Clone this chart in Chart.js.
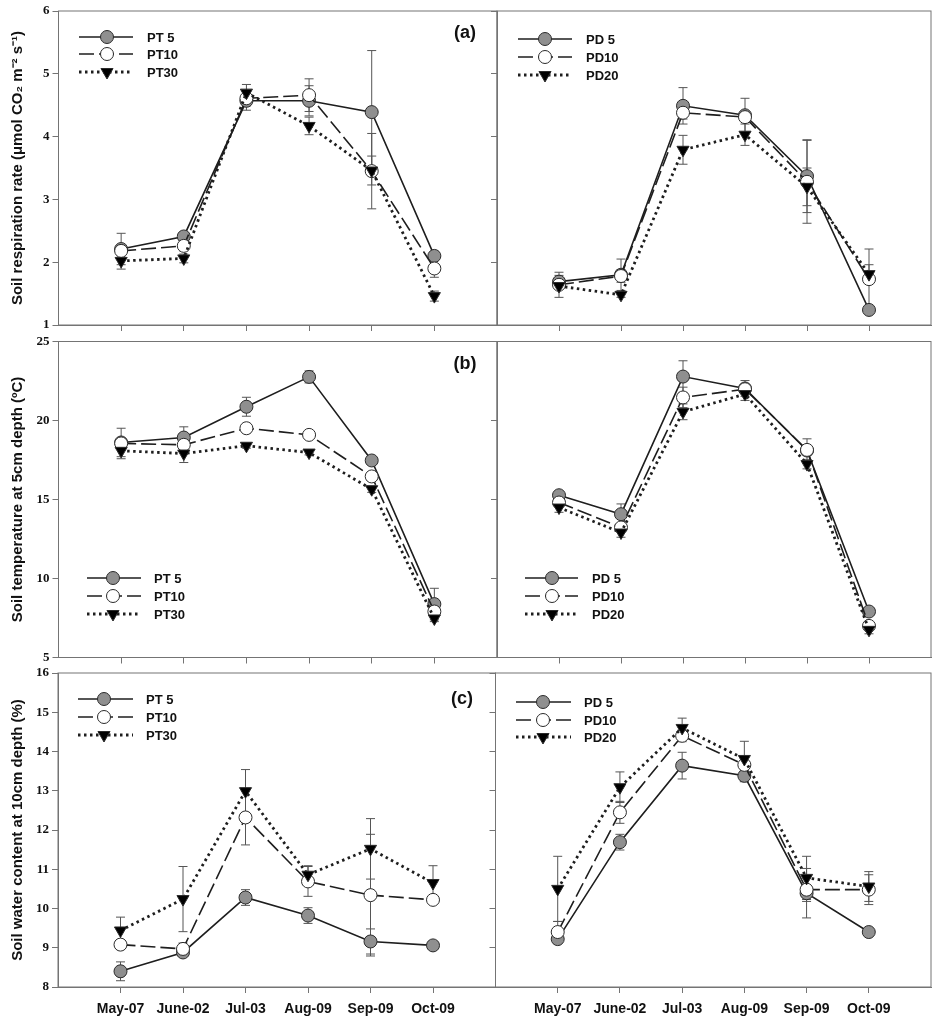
<!DOCTYPE html>
<html>
<head>
<meta charset="utf-8">
<script src="https://cdn.jsdelivr.net/npm/chart.js@4.4.0/dist/chart.umd.min.js"></script>
<style>
  html, body { margin: 0; padding: 0; background: #fff; }
  #wrap { position: relative; width: 939px; height: 1024px; }
  #wrap canvas { position: absolute; left: 0; top: 0; }
</style>
</head>
<body>
<div id="wrap"></div>
<script>
// sampling dates
let months = ["May-07", "June-02", "Jul-03", "Aug-09", "Sep-09", "Oct-09"];

// (a) soil respiration rate
let respPT5 = [2.21, 2.41, 4.57, 4.57, 4.39, 2.10];
let respPT5Err = [0.25, 0.06, 0.15, 0.24, 0.98, 0.06];
let respPT10 = [2.18, 2.26, 4.61, 4.66, 3.45, 1.90];
let respPT10Err = [0.08, 0.08, 0.12, 0.26, 0.6, 0.14];
let respPT30 = [2.02, 2.06, 4.70, 4.17, 3.46, 1.46];
let respPT30Err = [0.13, 0.07, 0.13, 0.14, 0.23, 0.08];
let respPD5 = [1.69, 1.80, 4.49, 4.34, 3.37, 1.24];
let respPD5Err = [0.1, 0.25, 0.29, 0.27, 0.58, 0.05];
let respPD10 = [1.64, 1.78, 4.38, 4.31, 3.28, 1.73];
let respPD10Err = [0.2, 0.1, 0.1, 0.06, 0.66, 0.48];
let respPD20 = [1.62, 1.48, 3.79, 4.03, 3.20, 1.81];
let respPD20Err = [0.05, 0.04, 0.23, 0.17, 0.3, 0.15];

// (b) soil temperature at 5cm
let tempPT5 = [18.61, 18.92, 20.87, 22.76, 17.47, 8.38];
let tempPT5Err = [0.9, 0.68, 0.6, 0.38, 0.2, 1.0];
let tempPT10 = [18.55, 18.46, 19.51, 19.09, 16.46, 7.91];
let tempPT10Err = [0.2, 0.2, 0.2, 0.15, 0.2, 0.3];
let tempPT30 = [18.08, 17.91, 18.40, 17.97, 15.65, 7.47];
let tempPT30Err = [0.5, 0.57, 0.15, 0.15, 0.2, 0.2];
let tempPD5 = [15.27, 14.07, 22.78, 22.03, 18.10, 7.91];
let tempPD5Err = [0.2, 0.65, 1.0, 0.5, 0.3, 0.2];
let tempPD10 = [14.81, 13.23, 21.46, 21.98, 18.14, 7.00];
let tempPD10Err = [0.2, 0.2, 0.65, 0.3, 0.7, 0.2];
let tempPD20 = [14.49, 12.91, 20.55, 21.67, 17.24, 6.75];
let tempPD20Err = [0.3, 0.3, 0.5, 0.4, 0.3, 0.25];

// (c) soil water content at 10cm
let waterPT5 = [8.40, 8.88, 10.28, 9.82, 9.16, 9.06];
let waterPT5Err = [0.24, 0.05, 0.2, 0.2, 0.32, 0.05];
let waterPT10 = [9.08, 8.97, 12.32, 10.69, 10.34, 10.22];
let waterPT10Err = [0.05, 0.15, 0.7, 0.38, 1.55, 0.05];
let waterPT30 = [9.44, 10.24, 12.99, 10.86, 11.52, 10.65];
let waterPT30Err = [0.34, 0.83, 0.55, 0.23, 0.77, 0.44];
let waterPD5 = [9.22, 11.69, 13.64, 13.38, 10.39, 9.40];
let waterPD5Err = [0.1, 0.2, 0.34, 0.15, 0.63, 0.05];
let waterPD10 = [9.40, 12.45, 14.40, 13.66, 10.48, 10.48];
let waterPD10Err = [0.27, 0.28, 0.15, 0.2, 0.3, 0.38];
let waterPD20 = [10.50, 13.09, 14.60, 13.81, 10.78, 10.56];
let waterPD20Err = [0.83, 0.39, 0.25, 0.45, 0.55, 0.38];

let W = 939, H = 1024;
let axisGray = "#747474";
let lineColor = "#1e1e1e";
let sansBold = { family: "'Liberation Sans', Arial, sans-serif", weight: "bold" };

// three line styles: solid/grey dot, dashed/open circle, dotted/black triangle
let styles = [
  { borderDash: [], borderWidth: 1.6, pointStyle: "circle", pointRadius: 6.5, fill: "#8f8f8f", rotation: 0 },
  { borderDash: [15, 5], borderWidth: 1.6, pointStyle: "circle", pointRadius: 6.5, fill: "#ffffff", rotation: 0 },
  { borderDash: [2.5, 3.5], borderWidth: 2.8, pointStyle: "triangle", pointRadius: 7, fill: "#000000", rotation: 180 },
];

function makeDataset(label, values, errors, i) {
  let s = styles[i];
  return {
    label: label,
    data: values.map((v, k) => ({ x: k, y: v })),
    values: values,
    errors: errors,
    borderColor: lineColor,
    borderWidth: s.borderWidth,
    borderDash: s.borderDash,
    borderCapStyle: "butt",
    pointStyle: s.pointStyle,
    pointRotation: s.rotation,
    pointRadius: s.pointRadius,
    pointBackgroundColor: s.fill,
    pointBorderColor: "#2a2a2a",
    pointBorderWidth: 1,
    tension: 0,
    order: 3 - i,
  };
}

let errorBars = {
  id: "errorBars",
  beforeDatasetsDraw(chart) {
    let ctx = chart.ctx;
    let x = chart.scales.x, y = chart.scales.y;
    ctx.save();
    ctx.strokeStyle = "#555";
    ctx.lineWidth = 1;
    chart.data.datasets.forEach((ds) => {
      ds.values.forEach((v, k) => {
        let e = ds.errors[k];
        let px = x.getPixelForValue(k);
        let top = y.getPixelForValue(v + e);
        let bot = y.getPixelForValue(v - e);
        ctx.beginPath();
        ctx.moveTo(px, top); ctx.lineTo(px, bot);
        ctx.moveTo(px - 4.5, top); ctx.lineTo(px + 4.5, top);
        ctx.moveTo(px - 4.5, bot); ctx.lineTo(px + 4.5, bot);
        ctx.stroke();
      });
    });
    ctx.restore();
  },
};

let frame = {
  id: "frame",
  afterDraw(chart) {
    let a = chart.chartArea, ctx = chart.ctx;
    ctx.save();
    ctx.strokeStyle = axisGray;
    ctx.lineWidth = 1;
    ctx.strokeRect(a.left, a.top, a.right - a.left, a.bottom - a.top);
    ctx.restore();
  },
};

let lineLegend = {
  id: "lineLegend",
  afterDraw(chart, args, opts) {
    if (!opts || !opts.ys) return;
    let ctx = chart.ctx;
    ctx.save();
    chart.data.datasets.forEach((ds, i) => {
      let yy = opts.ys[i];
      ctx.strokeStyle = lineColor;
      ctx.lineWidth = ds.borderWidth;
      ctx.setLineDash(ds.borderDash);
      ctx.beginPath();
      ctx.moveTo(opts.x0, yy); ctx.lineTo(opts.x1, yy);
      ctx.stroke();
      ctx.setLineDash([]);
      ctx.fillStyle = ds.pointBackgroundColor;
      ctx.strokeStyle = ds.pointBorderColor;
      ctx.lineWidth = 1;
      Chart.helpers.drawPoint(ctx, {
        pointStyle: ds.pointStyle, rotation: ds.pointRotation,
        radius: ds.pointRadius, borderWidth: 1,
      }, opts.mx, yy);
      ctx.fillStyle = "#111";
      ctx.font = "bold 13px 'Liberation Sans', Arial, sans-serif";
      ctx.textBaseline = "middle";
      ctx.fillText(ds.label, opts.tx, yy + 1);
    });
    if (opts.tag) {
      ctx.font = "bold 18px 'Liberation Sans', Arial, sans-serif";
      ctx.textAlign = "center";
      ctx.textBaseline = "middle";
      ctx.fillText(opts.tag, opts.tagX, opts.tagY);
    }
    ctx.restore();
  },
};

function makePanel(box, yRange, datasets, legend, opts) {
  let canvas = document.createElement("canvas");
  canvas.width = W; canvas.height = H;
  canvas.style.width = W + "px"; canvas.style.height = H + "px";
  document.getElementById("wrap").appendChild(canvas);
  let yW = opts.title ? box.left : 8;
  let xH = 40;
  return new Chart(canvas.getContext("2d"), {
    type: "line",
    data: { datasets: datasets },
    plugins: [errorBars, frame, lineLegend],
    options: {
      responsive: false,
      animation: false,
      events: [],
      layout: {
        padding: { left: box.left - yW, top: box.top, right: W - box.right, bottom: H - box.bottom - xH },
      },
      plugins: { legend: { display: false }, tooltip: { enabled: false }, lineLegend: legend },
      scales: {
        x: {
          type: "linear", min: -1, max: 6,
          afterBuildTicks: (s) => { s.ticks = months.map((m, k) => ({ value: k })); },
          afterFit: (s) => { s.height = xH; },
          grid: { drawOnChartArea: false, drawTicks: true, tickLength: 6, color: axisGray },
          border: { color: axisGray },
          ticks: {
            display: opts.xLabels, padding: 8, color: "#111",
            font: { ...sansBold, size: 14 },
            callback: (v) => months[v],
            maxRotation: 0, autoSkip: false,
          },
        },
        y: {
          min: yRange[0], max: yRange[1],
          afterFit: (s) => { s.width = yW; },
          grid: { drawOnChartArea: false, drawTicks: true, tickLength: 6, color: axisGray },
          border: { color: axisGray },
          ticks: {
            display: !!opts.title, stepSize: yRange[2], padding: 3, color: "#111",
            font: { family: "'Liberation Serif', 'Times New Roman', serif", weight: "bold", size: 13 },
          },
          title: {
            display: !!opts.title, text: opts.title, color: "#111",
            font: { ...sansBold, size: 15 }, padding: { top: 9, bottom: 0 },
          },
        },
      },
    },
  });
}

let ptNames = ["PT 5", "PT10", "PT30"];
let pdNames = ["PD 5", "PD10", "PD20"];

// (a)
makePanel({ left: 58.5, top: 11, right: 497, bottom: 325 }, [1, 6, 1], [
  makeDataset(ptNames[0], respPT5, respPT5Err, 0),
  makeDataset(ptNames[1], respPT10, respPT10Err, 1),
  makeDataset(ptNames[2], respPT30, respPT30Err, 2),
], { x0: 79, x1: 133, mx: 107, tx: 147, ys: [37, 54, 72], tag: "(a)", tagX: 465, tagY: 33 },
  { title: "Soil respiration rate (\u03bcmol CO\u2082 m\u207b\u00b2 s\u207b\u00b9)", xLabels: false });

makePanel({ left: 497, top: 11, right: 934.5, bottom: 325 }, [1, 6, 1], [
  makeDataset(pdNames[0], respPD5, respPD5Err, 0),
  makeDataset(pdNames[1], respPD10, respPD10Err, 1),
  makeDataset(pdNames[2], respPD20, respPD20Err, 2),
], { x0: 518, x1: 572, mx: 545, tx: 586, ys: [39, 57, 75] }, { xLabels: false });

// (b)
makePanel({ left: 58.5, top: 341.5, right: 497, bottom: 657.5 }, [5, 25, 5], [
  makeDataset(ptNames[0], tempPT5, tempPT5Err, 0),
  makeDataset(ptNames[1], tempPT10, tempPT10Err, 1),
  makeDataset(ptNames[2], tempPT30, tempPT30Err, 2),
], { x0: 87, x1: 141, mx: 113, tx: 154, ys: [578, 596, 614], tag: "(b)", tagX: 465, tagY: 364 },
  { title: "Soil temperature at 5cm depth (\u00baC)", xLabels: false });

makePanel({ left: 497, top: 341.5, right: 934.5, bottom: 657.5 }, [5, 25, 5], [
  makeDataset(pdNames[0], tempPD5, tempPD5Err, 0),
  makeDataset(pdNames[1], tempPD10, tempPD10Err, 1),
  makeDataset(pdNames[2], tempPD20, tempPD20Err, 2),
], { x0: 525, x1: 578, mx: 552, tx: 592, ys: [578, 596, 614] }, { xLabels: false });

// (c)
makePanel({ left: 58, top: 673, right: 495.5, bottom: 987 }, [8, 16, 1], [
  makeDataset(ptNames[0], waterPT5, waterPT5Err, 0),
  makeDataset(ptNames[1], waterPT10, waterPT10Err, 1),
  makeDataset(ptNames[2], waterPT30, waterPT30Err, 2),
], { x0: 78, x1: 133, mx: 104, tx: 146, ys: [699, 717, 735], tag: "(c)", tagX: 462, tagY: 699 },
  { title: "Soil water content at 10cm depth (%)", xLabels: true });

makePanel({ left: 495.5, top: 673, right: 933, bottom: 987 }, [8, 16, 1], [
  makeDataset(pdNames[0], waterPD5, waterPD5Err, 0),
  makeDataset(pdNames[1], waterPD10, waterPD10Err, 1),
  makeDataset(pdNames[2], waterPD20, waterPD20Err, 2),
], { x0: 516, x1: 571, mx: 543, tx: 584, ys: [702, 720, 737] }, { xLabels: true });
</script>
</body>
</html>
